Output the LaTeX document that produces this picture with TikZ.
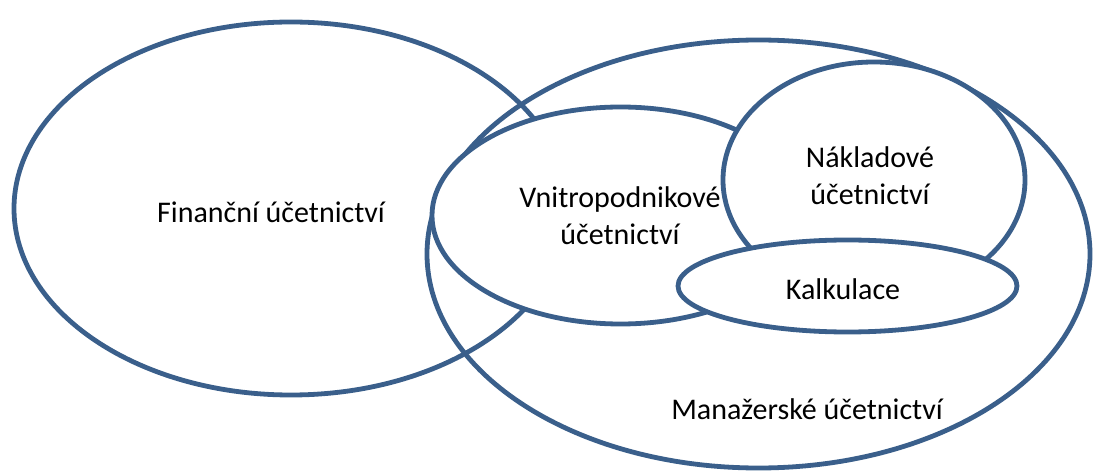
\documentclass[tikz,border=0pt]{standalone}
\usepackage{fontspec}
\setmainfont{Carlito}
\definecolor{ringblue}{RGB}{58,95,139}
\begin{document}
\begin{tikzpicture}[x=1pt,y=-1pt,
  ring/.style={draw=ringblue,line width=4.8pt},
  ringfill/.style={ring,fill=white},
  lbl/.style={inner sep=0pt,align=center,font=\fontsize{30}{37}\selectfont}]
\useasboundingbox (0,0) rectangle (1093,473);
% ellipses
\draw[ring] (291,208.5) ellipse [x radius=277, y radius=186.5];
\draw[ring] (758.5,254) ellipse [x radius=331.5, y radius=214];
\draw[ringfill] (620.5,215.5) ellipse [x radius=188.5, y radius=108.5];
\draw[ringfill] (874,180) ellipse [x radius=151, y radius=118];
\draw[ringfill] (847.5,286) ellipse [x radius=169.5, y radius=46];
% labels
\node[lbl,anchor=base] (fin) at (271,223) {Finanční účetnictví};
\node[lbl,anchor=base] (vni1) at (620,208) {Vnitropodnikové};
\node[lbl,anchor=base] (vni2) at (620,245) {účetnictví};
\node[lbl,anchor=base] (nak1) at (870,168) {Nákladové};
\node[lbl,anchor=base] (nak2) at (870,205) {účetnictví};
\node[lbl,anchor=base] (kal) at (843,299) {Kalkulace};
\node[lbl,anchor=base] (man) at (807,419) {Manažerské účetnictví};
\end{tikzpicture}
\end{document}
